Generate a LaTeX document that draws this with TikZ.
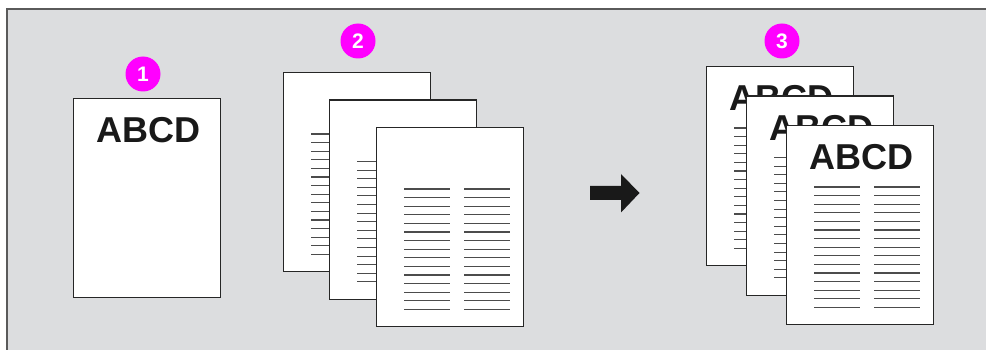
\documentclass[tikz,border=0pt]{standalone}
\usepackage{fontspec}
\setmainfont{Liberation Sans}
\usepackage{tikz}
\usetikzlibrary{positioning,calc}
\definecolor{panelgray}{RGB}{220,221,223}
\definecolor{framegray}{RGB}{90,90,90}
\definecolor{badgepink}{RGB}{255,0,255}

\begin{document}
\begin{tikzpicture}[x=1pt, y=-1pt,
        page/.style={rectangle, draw=black!85, line width=1.4pt, fill=white, minimum width=147pt, minimum height=199pt, anchor=north west, inner sep=0pt},
        badge/.style={circle, fill=badgepink, minimum size=35pt, inner sep=0pt, text=white, font=\bfseries\fontsize{21}{21}\selectfont},
        bigtext/.style={anchor=base, inner sep=0pt, text=black!90, font=\bfseries\fontsize{36}{36}\selectfont},
        txtline/.style={draw=black!70, line width=1.1pt}]

        \useasboundingbox (0,0) rectangle (986,350);
        \fill[panelgray] (7,9) rectangle (986,350);
        \draw[framegray, line width=1.6pt] (7,350) -- (7,9) -- (986,9);

        % single sheet
        \node[page] (sheet) at (73,98) {};
        \node[bigtext] (sheettext) at ($(sheet.north)+(1.5,45)$) {ABCD};
        \node[badge] (one) at (143,74) {1};

        % text sheets
        \foreach \nm/\x/\y in {inA/283/72, inB/329/99.5, inC/376/127} {
            \node[page] (\nm) at (\x,\y) {};
            \foreach \i in {0,...,14} {
                \draw[txtline] ($(\nm.north west)+(28,62+8.6*\i)$) -- ++(46,0);
                \draw[txtline] ($(\nm.north west)+(88,62+8.6*\i)$) -- ++(46,0);
            }
        }
        \node[badge] (two) at (358,41) {2};

        % arrow
        \fill[black!90] (590,186) -- (621,186) -- (621,174) -- (639.5,193)
            -- (621,212.5) -- (621,200) -- (590,200) -- cycle;

        % result sheets
        \foreach \nm/\x/\y in {outA/706/66, outB/746/95.5, outC/786/125} {
            \node[page] (\nm) at (\x,\y) {};
            \node[bigtext] (\nm text) at ($(\nm.north)+(1.5,45)$) {ABCD};
            \foreach \i in {0,...,14} {
                \draw[txtline] ($(\nm.north west)+(28,62+8.6*\i)$) -- ++(46,0);
                \draw[txtline] ($(\nm.north west)+(88,62+8.6*\i)$) -- ++(46,0);
            }
        }
        \node[badge] (three) at (782,41) {3};

    \end{tikzpicture}
\end{document}
